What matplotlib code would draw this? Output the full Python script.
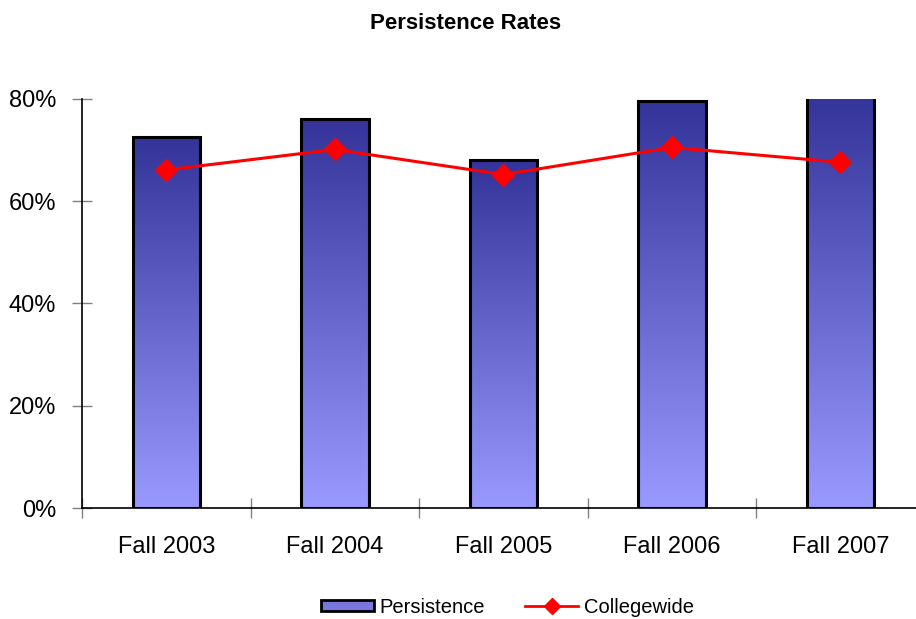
import numpy as np
import matplotlib
matplotlib.use("Agg")
import matplotlib.pyplot as plt
from matplotlib.colors import LinearSegmentedColormap
from matplotlib.patches import Patch
from matplotlib.lines import Line2D

plt.rcParams['font.family'] = ['Liberation Sans', 'DejaVu Sans']

# Data
terms = ["Fall 2003", "Fall 2004", "Fall 2005", "Fall 2006", "Fall 2007"]
persistence = [0.725, 0.761, 0.680, 0.796, 0.81]
collegewide = [0.661, 0.701, 0.652, 0.705, 0.676]

fig = plt.figure(figsize=(9.16, 6.19), dpi=100)
ax = fig.add_axes([0.0895, 0.1793, 0.920, 0.661])

ymax = 0.8
x = np.arange(len(terms))
cmap = LinearSegmentedColormap.from_list("grad", ["#9999FF", "#333399"])
grad = np.linspace(0, 1, 256).reshape(-1, 1)

bars = ax.bar(x, persistence, width=0.4, facecolor="none", edgecolor="black",
              linewidth=2.2, zorder=3)
for b in bars:
    x0, y0 = b.get_x(), b.get_y()
    w, h = b.get_width(), b.get_height()
    top = min(y0 + h, ymax)
    g = grad[: int(round(256 * (top - y0) / h))]
    ax.imshow(g, cmap=cmap, vmin=0, vmax=1, origin="lower", aspect="auto",
              extent=(x0, x0 + w, y0, top), zorder=2)

ax.plot(x, collegewide, color="red", linewidth=2.2, marker="D", markersize=11,
        zorder=4)

ax.set_xlim(-0.5, 4.5)
ax.set_ylim(0, ymax)
ax.set_yticks([0, 0.2, 0.4, 0.6, 0.8])
ax.set_yticklabels(["0%", "20%", "40%", "60%", "80%"])
ax.set_xticks(x)
ax.set_xticklabels(terms)
ax.set_xticks(np.arange(-0.5, 5.0, 1.0), minor=True)

ax.tick_params(axis="y", direction="inout", length=15, width=1, color="#808080",
               labelsize=17, pad=11)
ax.tick_params(axis="x", which="major", length=0, labelsize=17, pad=20)
ax.tick_params(axis="x", which="minor", direction="inout", length=15, width=1,
               color="#808080")

for s in ["top", "right"]:
    ax.spines[s].set_visible(False)
ax.spines["left"].set_linewidth(1.2)
ax.spines["bottom"].set_linewidth(1.2)

fig.text(0.508, 0.962, "Persistence Rates", ha="center", va="center",
         fontsize=16, fontweight="bold")

handles = [Patch(facecolor="#7777DD", edgecolor="black", linewidth=2),
           Line2D([0], [0], color="red", linewidth=2, marker="D", markersize=8)]
fig.legend(handles, ["Persistence", "Collegewide"], loc="center",
           bbox_to_anchor=(0.554, 0.019), ncol=2, frameon=False, fontsize=14.5,
           handlelength=2.6, handleheight=0.45, columnspacing=2.0, handletextpad=0.3)

fig.savefig("out.png", dpi=100)
